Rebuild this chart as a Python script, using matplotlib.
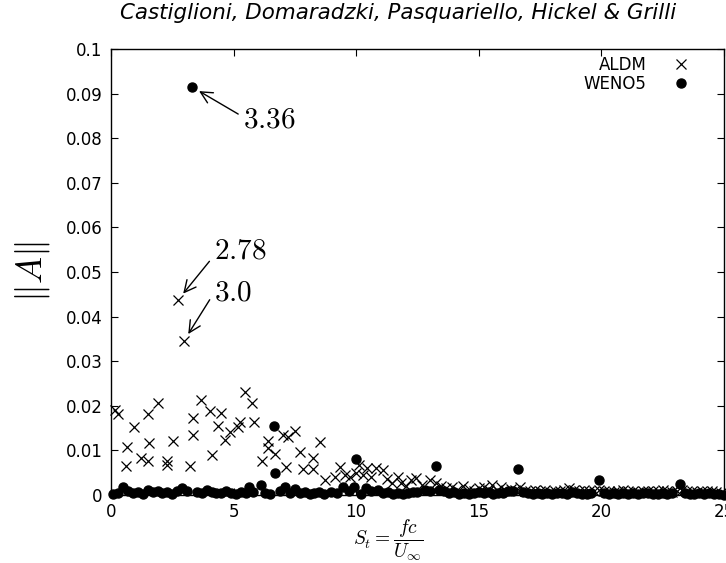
import numpy as np
import matplotlib.pyplot as plt

plt.rcParams['mathtext.fontset'] = 'cm'

# ALDM (crosses)
aldm_st = [0.16, 0.30, 0.60, 0.64, 0.95, 1.21, 1.49, 1.52, 1.56, 1.93, 2.29, 2.29, 2.54, 2.73, 2.97,
           3.22, 3.35, 3.35, 3.66, 4.03, 4.10, 4.37, 4.48, 4.64, 4.85, 5.18, 5.25, 5.48, 5.77, 5.84,
           6.16, 6.40, 6.40, 6.68, 7.02, 7.15, 7.22, 7.52, 7.70, 7.83, 8.24, 8.24, 8.54, 8.71, 9.12,
           9.36, 9.53, 9.77, 10.0, 10.1, 10.3, 10.45, 10.6, 10.8, 11.1, 11.25, 11.45, 11.7, 11.85,
           12.05, 12.24, 12.44, 12.7, 13.0, 13.26, 13.46, 13.67, 13.9, 14.1, 14.35, 14.6, 14.8, 15.0,
           15.2, 15.4, 15.56, 15.75, 15.9, 16.1, 16.3, 16.5, 16.7, 16.9, 17.1, 17.3, 17.5, 17.7, 17.9,
           18.1, 18.3, 18.5, 18.7, 18.9, 19.1, 19.3, 19.5, 19.7, 19.9, 20.1, 20.3, 20.5, 20.7, 20.9,
           21.1, 21.3, 21.5, 21.7, 21.9, 22.1, 22.3, 22.5, 22.7, 22.9, 23.1, 23.3, 23.5, 23.7, 23.9,
           24.1, 24.3, 24.5, 24.7, 24.9]
aldm_a = [0.0191, 0.0181, 0.0064, 0.0108, 0.0153, 0.0084, 0.0077, 0.0181, 0.0116, 0.0207, 0.0077, 0.0067,
          0.0122, 0.0437, 0.0345, 0.0065, 0.0134, 0.0172, 0.0213, 0.0189, 0.0090, 0.0155, 0.0183, 0.0123,
          0.0142, 0.0153, 0.0164, 0.0232, 0.0207, 0.0163, 0.0076, 0.0120, 0.0105, 0.0093, 0.0134, 0.0062,
          0.0129, 0.0143, 0.0097, 0.0058, 0.0082, 0.0058, 0.0118, 0.0034, 0.0041, 0.0062, 0.0045, 0.0041,
          0.0050, 0.0067, 0.0045, 0.0060, 0.0040, 0.0060, 0.0056, 0.0035, 0.0026, 0.0040, 0.0026, 0.0020,
          0.0034, 0.0037, 0.0022, 0.0034, 0.0026, 0.0020, 0.0015, 0.0018, 0.0012, 0.0020, 0.0014, 0.0010,
          0.0016, 0.0019, 0.0012, 0.0022, 0.0012, 0.0019, 0.0010, 0.0014, 0.0012, 0.0019, 0.0010, 0.0008,
          0.0012, 0.0009, 0.0011, 0.0007, 0.0010, 0.0009, 0.0012, 0.0015, 0.0011, 0.0009, 0.0012, 0.0008,
          0.0010, 0.0011, 0.0008, 0.0010, 0.0007, 0.0009, 0.0011, 0.0008, 0.0010, 0.0007, 0.0009, 0.0008,
          0.0010, 0.0008, 0.0011, 0.0009, 0.0007, 0.0010, 0.0011, 0.0008, 0.0009, 0.0007, 0.0010, 0.0008,
          0.0009, 0.0006, 0.0004]

# WENO5 (dots)
weno_st = [0.1, 0.3, 0.5, 0.7, 0.9, 1.1, 1.3, 1.5, 1.7, 1.9, 2.1, 2.3, 2.5, 2.7, 2.9, 3.1, 3.3, 3.5,
           3.7, 3.9, 4.1, 4.3, 4.5, 4.7, 4.9, 5.1, 5.3, 5.5, 5.62, 5.8, 6.1, 6.3, 6.5, 6.65, 6.68, 6.9,
           7.08, 7.3, 7.52, 7.7, 7.9, 8.1, 8.3, 8.5, 8.7, 8.96, 9.2, 9.46, 9.7, 9.91, 10.0, 10.2, 10.4,
           10.6, 10.9, 11.1, 11.3, 11.5, 11.7, 11.9, 12.1, 12.3, 12.5, 12.8, 13.0, 13.25, 13.4, 13.6,
           13.8, 14.0, 14.2, 14.4, 14.6, 14.8, 15.0, 15.2, 15.4, 15.6, 15.8, 16.0, 16.2, 16.4, 16.6,
           16.8, 17.0, 17.2, 17.4, 17.6, 17.8, 18.0, 18.2, 18.4, 18.6, 18.8, 19.0, 19.2, 19.4, 19.6,
           19.9, 20.1, 20.3, 20.5, 20.7, 20.9, 21.1, 21.3, 21.5, 21.7, 21.9, 22.1, 22.3, 22.5, 22.7,
           22.9, 23.2, 23.4, 23.6, 23.8, 24.0, 24.2, 24.4, 24.6, 24.8, 25.0]
weno_a = [0.0003, 0.0005, 0.0019, 0.0008, 0.0004, 0.0006, 0.0003, 0.0012, 0.0007, 0.0009, 0.0005, 0.0006,
          0.0003, 0.0008, 0.0016, 0.0010, 0.0915, 0.0006, 0.0004, 0.0012, 0.0006, 0.0005, 0.0004, 0.0008,
          0.0005, 0.0003, 0.0007, 0.0004, 0.0018, 0.0006, 0.0022, 0.0004, 0.0003, 0.0155, 0.0050, 0.0010,
          0.0018, 0.0005, 0.0013, 0.0004, 0.0006, 0.0002, 0.0004, 0.0006, 0.0003, 0.0007, 0.0004, 0.0017,
          0.0008, 0.0019, 0.0080, 0.0003, 0.0015, 0.0008, 0.0011, 0.0004, 0.0006, 0.0003, 0.0004, 0.0002,
          0.0005, 0.0006, 0.0007, 0.0011, 0.0009, 0.0065, 0.0011, 0.0008, 0.0004, 0.0006, 0.0003, 0.0005,
          0.0002, 0.0004, 0.0006, 0.0004, 0.0006, 0.0003, 0.0005, 0.0004, 0.0008, 0.0010, 0.0058, 0.0006,
          0.0004, 0.0002, 0.0005, 0.0003, 0.0004, 0.0002, 0.0004, 0.0005, 0.0003, 0.0006, 0.0004, 0.0003,
          0.0002, 0.0005, 0.0033, 0.0004, 0.0003, 0.0005, 0.0002, 0.0004, 0.0003, 0.0004, 0.0003, 0.0005,
          0.0004, 0.0003, 0.0002, 0.0004, 0.0003, 0.0005, 0.0025, 0.0004, 0.0003, 0.0002, 0.0004, 0.0003,
          0.0005, 0.0003, 0.0002, 0.0001]

xticks = [0, 5, 10, 15, 20, 25]
yticks = [0, 0.01, 0.02, 0.03, 0.04, 0.05, 0.06, 0.07, 0.08, 0.09, 0.1]
ytick_labels = ['0', '0.01', '0.02', '0.03', '0.04', '0.05', '0.06', '0.07', '0.08', '0.09', '0.1']

fig = plt.figure(figsize=(7.26, 5.63), dpi=100)
ax = fig.add_axes([0.1529, 0.1208, 0.8441, 0.7922])

ax.plot(aldm_st, aldm_a, 'x', color='black', ms=7.5, mew=0.9, label='ALDM', clip_on=False)
ax.plot(weno_st, weno_a, 'o', color='black', ms=6.5, label='WENO5', clip_on=False)

ax.set_xlim(0, 25)
ax.set_ylim(0, 0.1)
ax.set_xticks(xticks)
ax.set_yticks(yticks)
ax.set_yticklabels(ytick_labels)
ax.tick_params(direction='in', top=True, right=True, length=5, labelsize=12, pad=6)
for s in ax.spines.values():
    s.set_linewidth(1.0)

ax.set_xlabel(r'$S_t = \dfrac{fc}{U_\infty}$', fontsize=14)
ax.xaxis.set_label_coords(0.452, -0.051)
ax.set_ylabel(r'$\|A\|$', fontsize=26, labelpad=10)

ax.legend(loc='upper right', bbox_to_anchor=(0.969, 1.0), frameon=False, markerfirst=False,
          fontsize=12, handletextpad=1.1, borderaxespad=0.0, labelspacing=0.1, numpoints=1)

arrow = dict(arrowstyle='->', color='black', lw=1.0, shrinkA=2, shrinkB=6)
ax.annotate(r'$3.36$', xy=(3.3, 0.0915), xytext=(5.4, 0.0841), fontsize=21,
            va='center', ha='left', arrowprops=dict(arrow, relpos=(0, 0.6)))
ax.annotate(r'$2.78$', xy=(2.73, 0.0437), xytext=(4.2, 0.0549), fontsize=21,
            va='center', ha='left', arrowprops=dict(arrow, relpos=(0, 0.3)))
ax.annotate(r'$3.0$', xy=(2.97, 0.0345), xytext=(4.2, 0.0453), fontsize=21,
            va='center', ha='left', arrowprops=dict(arrow, relpos=(0, 0.5)))

fig.text(0.548, 0.995, 'Castiglioni, Domaradzki, Pasquariello, Hickel & Grilli',
         fontsize=15.4, style='italic', ha='center', va='top')

fig.savefig('out.png', dpi=100)
